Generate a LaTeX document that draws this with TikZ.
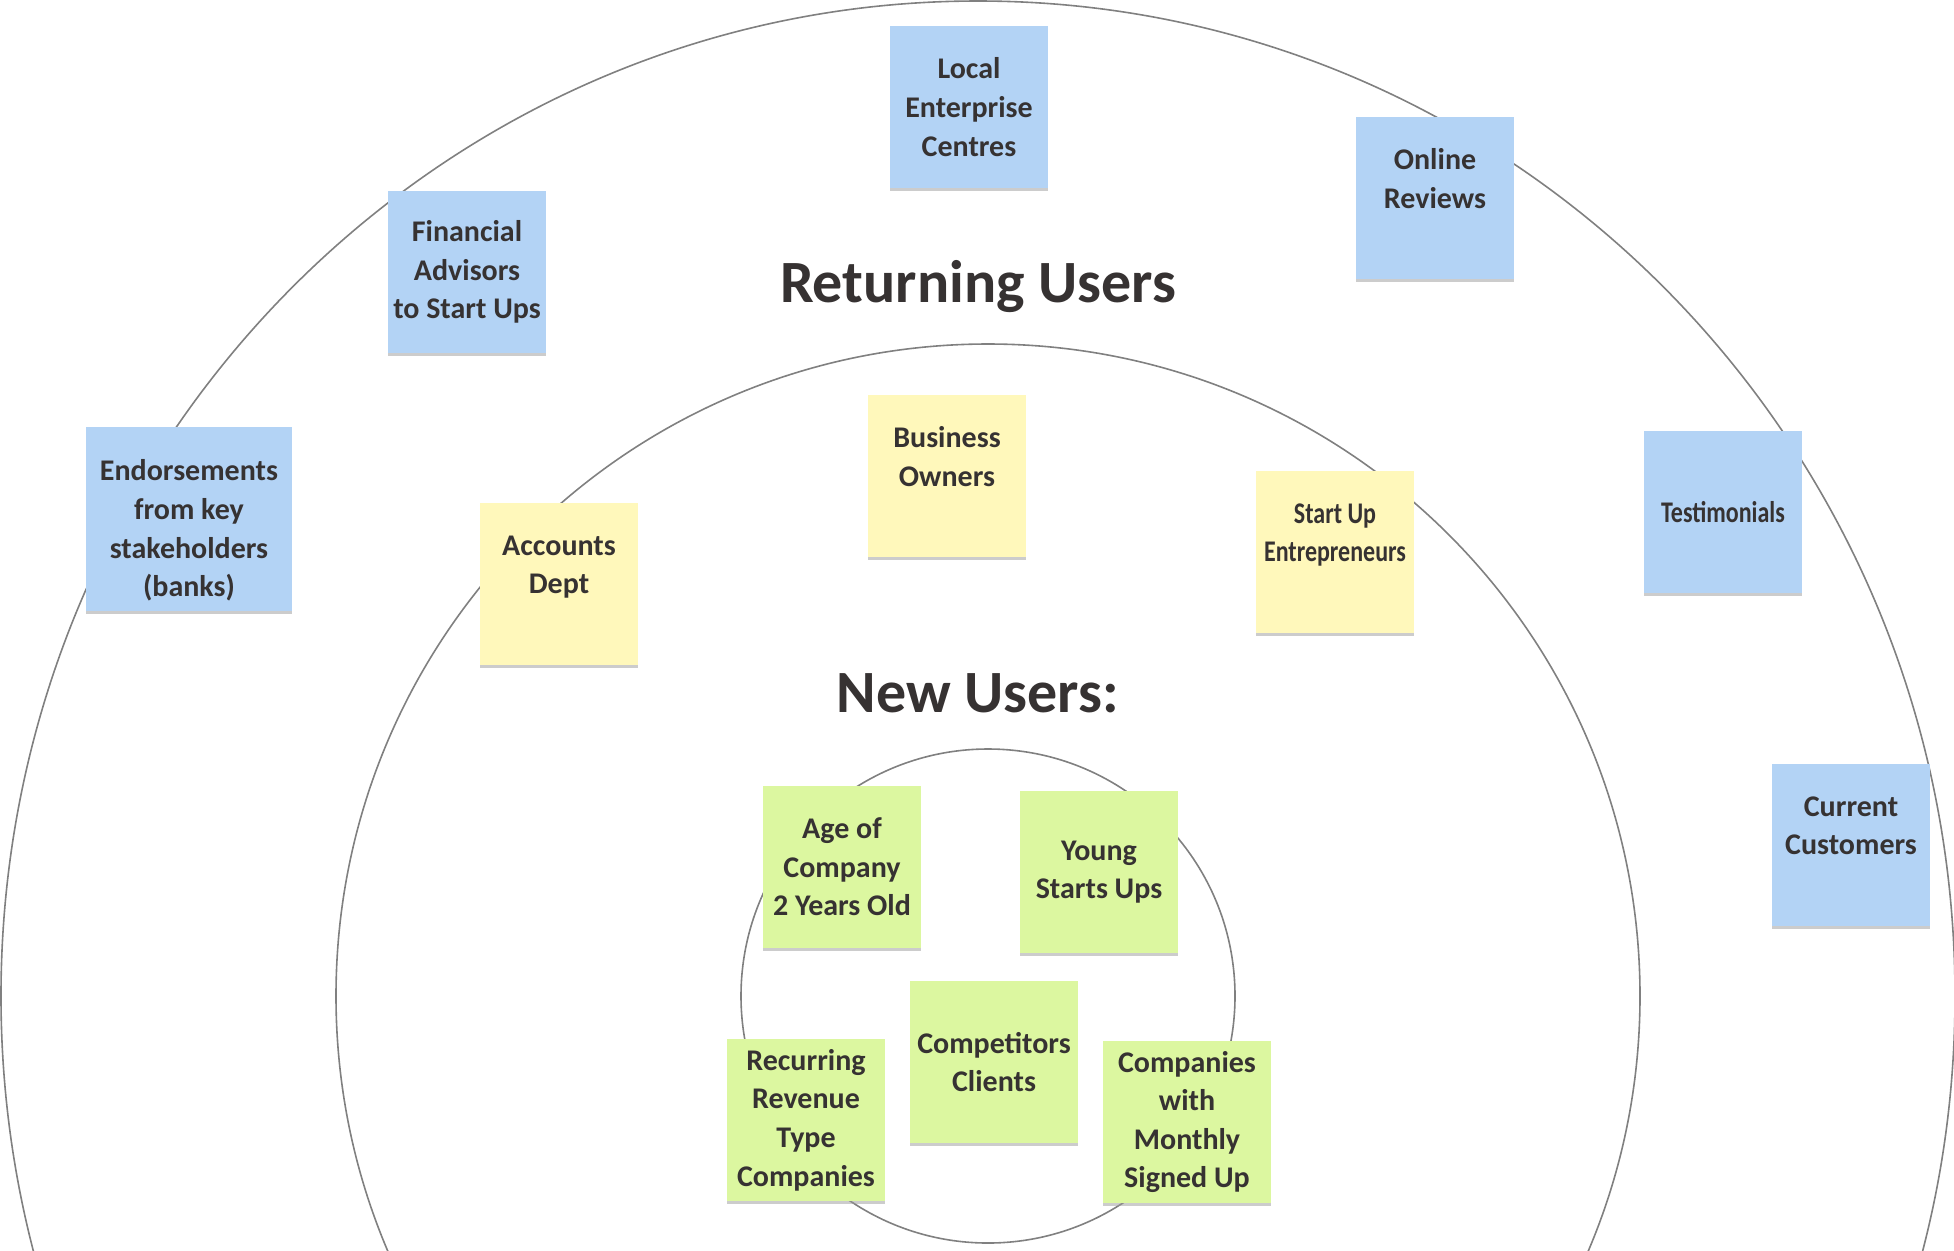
\documentclass[tikz,border=0pt]{standalone}
\usepackage{fontspec}
\setmainfont{Carlito}
\newfontfamily\narrowfont{Carlito}[FakeStretch=0.8]
\usetikzlibrary{shadows}
\definecolor{noteblue}{HTML}{B3D3F5}
\definecolor{noteyellow}{HTML}{FFF8BB}
\definecolor{notegreen}{HTML}{DCF7A0}
\definecolor{ringgray}{HTML}{808080}
\definecolor{inkgray}{HTML}{363232}

\begin{document}
\begin{tikzpicture}[x=0.5pt,y=-0.5pt,
  ring/.style={draw=ringgray,line width=0.8pt},
  note/.style={rectangle,inner sep=0pt,minimum width=79pt,minimum height=81pt,
    align=center,text=inkgray,font=\fontsize{15}{19.3}\selectfont\bfseries,
    drop shadow={shadow xshift=0pt,shadow yshift=-1.5pt,fill=black!40}},
  bluenote/.style={note,fill=noteblue},
  yellownote/.style={note,fill=noteyellow},
  greennote/.style={note,fill=notegreen},
  title/.style={text=inkgray,font=\fontsize{30}{36}\selectfont\bfseries}]
\useasboundingbox (0,0) rectangle (1954,1250);
% rings
\begin{scope}
\clip (0,0) rectangle (1954,1250);
\draw[ring] (978,996) ellipse [x radius=488.5pt, y radius=497.5pt];
\draw[ring] (988,996) circle (326pt);
\draw[ring] (988,996) circle (123.5pt);
\end{scope}
% headings
\node[title] (ret) at (978,287) {Returning Users};
\node[title] (new) at (978,693) {New Users:};
% returning users, outer ring
\node[bluenote] (lec) at (969,107) {Local\\Enterprise\\Centres};
\node[bluenote] (rev) at (1435,198) {Online\\Reviews\\ \mbox{}};
\node[bluenote] (fin) at (467,272) {Financial\\Advisors\\to Start Ups};
\node[bluenote,minimum width=103pt,minimum height=92pt] (end) at (189,519)
  {\rule{0pt}{22pt}Endorsements\\from key\\stakeholders\\(banks)};
\node[bluenote] (tes) at (1723,512) {\narrowfont Testimonials};
\node[bluenote] (cur) at (1851,845) {Current\\Customers\\ \mbox{}};
% returning users, middle ring
\node[yellownote] (bus) at (947,476) {Business\\Owners\\ \mbox{}};
\node[yellownote] (acc) at (559,584) {Accounts\\Dept\\ \mbox{}};
\node[yellownote] (sue) at (1335,552) {\narrowfont Start Up\\\narrowfont Entrepreneurs\\ \mbox{}};
% new users
\node[greennote] (age) at (842,867) {Age of\\Company\\2 Years Old};
\node[greennote] (yng) at (1099,872) {Young\\Starts Ups};
\node[greennote,minimum width=84pt] (cmp) at (994,1062) {Competitors\\Clients};
\node[greennote] (rec) at (806,1120) {Recurring\\Revenue\\Type\\Companies};
\node[greennote,minimum width=84pt] (mon) at (1187,1122) {Companies\\with\\Monthly\\Signed Up};
\end{tikzpicture}
\end{document}
